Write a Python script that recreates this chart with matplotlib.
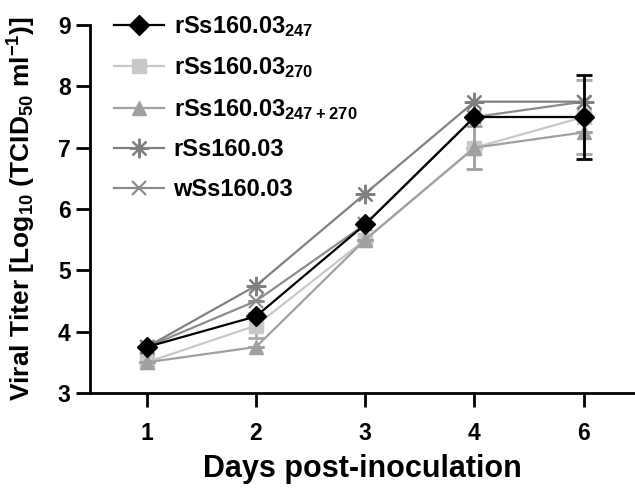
import matplotlib
matplotlib.use("Agg")
import matplotlib.pyplot as plt

plt.rcParams['font.family'] = ['Liberation Sans', 'DejaVu Sans']
plt.rcParams['font.weight'] = 'bold'
plt.rcParams['mathtext.default'] = 'regular'

days = ["1", "2", "3", "4", "6"]
labels = [r"rSs160.03$_{247}$", r"rSs160.03$_{270}$", r"rSs160.03$_{247+270}$",
          "rSs160.03", "wSs160.03"]

v_247 = [3.75, 4.25, 5.75, 7.5, 7.5]
v_270 = [3.5, 4.1, 5.5, 7.0, 7.5]
v_both = [3.5, 3.75, 5.5, 7.0, 7.25]
v_r = [3.75, 4.75, 6.25, 7.75, 7.75]
v_w = [3.75, 4.5, 5.75, 7.5, 7.75]

e_247 = [0, 0, 0, 0, 0.69]
e_270 = [0, 0.2, 0, 0, 0.6]
e_both = [0, 0, 0, 0.35, 0]
e_r = [0, 0, 0, 0, 0]
e_w = [0, 0, 0, 0, 0]

fig = plt.figure(figsize=(6.35, 4.88), dpi=100)
ax = fig.add_axes([90/635, 95/488, 545/635, 368/488])
x = list(range(len(days)))

styles = [
    # values, errs, color, ecolor, marker, ms, z
    (v_270, e_270, '#c8c8c8', '#a8a8a8', 's', 9.5, 2),
    (v_both, e_both, '#a0a0a0', '#a0a0a0', '^', 10.5, 3),
    (v_w, e_w, '#8c8c8c', '#8c8c8c', 'x', 9.5, 4),
    (v_r, e_r, '#808080', '#808080', (8, 2, 0), 14, 5),
    (v_247, e_247, '#000000', '#000000', 'D', 10, 6),
]
order_labels = [labels[1], labels[2], labels[4], labels[3], labels[0]]
handles = {}
for (vals, errs, c, ec, m, ms, z), lab in zip(styles, order_labels):
    ax.errorbar(x, vals, yerr=errs, fmt='none', ecolor=ec, elinewidth=2,
                capsize=6, capthick=2, zorder=z - 0.5)
    mew = 1.6 if m in ('x', (8, 2, 0)) else 1
    h, = ax.plot(x, vals, color=c, lw=1.6, marker=m, ms=ms,
                 markeredgewidth=mew, markeredgecolor=c, zorder=z, label=lab)
    handles[lab] = h

ax.set_xlim(-0.52, 4.47)
ax.set_ylim(3, 9)
ax.set_xticks(x)
ax.set_xticklabels(days)
ax.set_yticks(range(3, 10))
for s in ['top', 'right']:
    ax.spines[s].set_visible(False)
for s in ['left', 'bottom']:
    ax.spines[s].set_linewidth(2)
ax.tick_params(axis='both', width=2, length=10, labelsize=16.5)
ax.tick_params(axis='x', pad=11)
ax.tick_params(axis='y', pad=4)
for t in ax.get_xticklabels() + ax.get_yticklabels():
    t.set_fontweight('bold')

ax.set_xlabel("Days post-inoculation", fontsize=22, fontweight='bold', labelpad=6)
ax.set_ylabel(r"Viral Titer [Log$_{10}$ (TCID$_{50}$ ml$^{-1}$)]", fontsize=19,
              fontweight='bold', labelpad=14)

leg = fig.legend([handles[l] for l in labels], labels, loc='upper left',
                 bbox_to_anchor=(114/635, 1 - 14/488), frameon=False,
                 prop={'size': 17, 'weight': 'bold'}, handlelength=2.1,
                 labelspacing=0.7, handletextpad=0.42, borderpad=0,
                 borderaxespad=0)

fig.savefig("out.png", dpi=100)
